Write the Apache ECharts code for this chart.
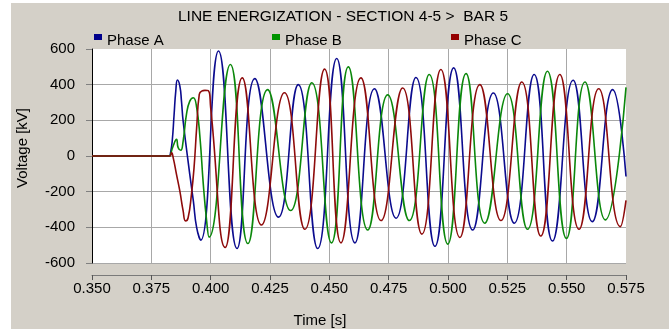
<!DOCTYPE html>
<html>
<head>
<meta charset="utf-8">
<title>Line energization</title>
<script src="https://cdn.jsdelivr.net/npm/echarts@6/dist/echarts.min.js"></script>
<style>
  html, body { margin: 0; padding: 0; background: #ffffff; }
  #chart { width: 669px; height: 329px; }
</style>
</head>
<body>
<div id="chart"></div>
<script>
// Phase voltages at bar 5 after energizing section 4-5 (time in s, voltage in kV)
const seriesNames = ['Phase A', 'Phase B', 'Phase C'];
const seriesColors = ['#0b0b8e', '#0b880b', '#8e0b0b'];
const markerColors = ['#00008b', '#009400', '#940000'];

const phaseATime = [0.350, 0.3825, 0.3831, 0.3838, 0.3846, 0.3853, 0.3860, 0.3870, 0.3877, 0.3884, 0.3912, 0.3927, 0.3941, 0.3958,
  0.4033, 0.4111, 0.4186, 0.4286, 0.4369, 0.4451, 0.4531, 0.4608, 0.4690, 0.4781, 0.4865, 0.4945, 0.5024, 0.5104,
  0.5191, 0.5279, 0.5363, 0.5440, 0.5527, 0.5608, 0.5694, 0.5750];
const phaseAVolt = [0, 0, 19, 84, 234, 364, 426, 393, 308, 196, -103, -252, -402, -472,
  589, -519, 434, -343, 400, -519, 547, -487, 377, -349, 440, -506, 494, -415,
  353, -377, 457, -477, 425, -368, 372, -115];

const phaseBTime = [0.350, 0.3828, 0.3831, 0.3842, 0.3856, 0.3863, 0.3874, 0.3884, 0.3898, 0.3912, 0.3927, 0.3941, 0.3955, 0.3969, 0.3983, 0.3993,
  0.4083, 0.4157, 0.4240, 0.4337, 0.4426, 0.4509, 0.4580, 0.4662, 0.4746, 0.4837, 0.4921, 0.4999, 0.5076, 0.5155,
  0.5251, 0.5335, 0.5419, 0.5499, 0.5577, 0.5663, 0.5750];
const phaseBVolt = [0, 0, 9, 56, 93, 47, 32, 84, 234, 308, 327, 271, 103, -159, -364, -455,
  513, -491, 372, -306, 411, -487, 500, -415, 343, -362, 457, -494, 462, -377,
  349, -411, 475, -462, 415, -358, 385];

const phaseCTime = [0.350, 0.3828, 0.3835, 0.3842, 0.3856, 0.3870, 0.3884, 0.3894, 0.3905, 0.3919, 0.3930, 0.3941, 0.3952, 0.3962, 0.3976, 0.3990, 0.4000,
  0.4061, 0.4133, 0.4214, 0.4311, 0.4397, 0.4480, 0.4549, 0.4633, 0.4718, 0.4809, 0.4890, 0.4970, 0.5050, 0.5134,
  0.5223, 0.5311, 0.5391, 0.5471, 0.5552, 0.5635, 0.5726, 0.5750];
const phaseCVolt = [0, 0, 19, -9, -103, -196, -308, -364, -346, -215, -65, 159, 346, 364, 368, 366, 271,
  -513, 438, -387, 355, -411, 487, -487, 438, -362, 381, -438, 485, -457, 400,
  -362, 415, -449, 457, -411, 377, -396, -249];

const timeAxis = { min: 0.350, max: 0.575, step: 0.025 };
const voltAxis = { min: -600, max: 600, step: 200 };
const titleText = 'LINE ENERGIZATION - SECTION 4-5 >  BAR 5';
const xName = 'Time [s]';
const yName = 'Voltage [kV]';

const FONT = '"Liberation Sans", Arial, Helvetica, sans-serif';

function pairs(ts, vs) {
  return ts.map((t, i) => [t, vs[i]]);
}

const phaseData = [
  pairs(phaseATime, phaseAVolt),
  pairs(phaseBTime, phaseBVolt),
  pairs(phaseCTime, phaseCVolt)
];

const legendX = [94, 272, 451];
const legendGraphics = [];
seriesNames.forEach((name, i) => {
  legendGraphics.push({
    type: 'rect', shape: { x: legendX[i], y: 34, width: 8, height: 6 },
    style: { fill: markerColors[i] }, silent: true
  });
  legendGraphics.push({
    type: 'text', x: legendX[i] + 13, y: 41,
    style: { text: name, font: '15px ' + FONT, fill: '#000', textVerticalAlign: 'middle' },
    silent: true
  });
});

const chart = echarts.init(document.getElementById('chart'), null, { renderer: 'canvas' });

chart.setOption({
  animation: false,
  backgroundColor: '#d4d0c8',
  graphic: [
    { type: 'rect', shape: { x: 0, y: 0, width: 11, height: 329 }, style: { fill: '#ffffff' }, silent: true },
    { type: 'rect', shape: { x: 0, y: 0, width: 669, height: 3 }, style: { fill: '#ffffff' }, silent: true },
    {
      type: 'text', x: 343, y: 17,
      style: { text: titleText, font: '15.5px ' + FONT, fill: '#000', textAlign: 'center', textVerticalAlign: 'middle' },
      silent: true
    },
    {
      type: 'text', x: 23, y: 148, rotation: Math.PI / 2,
      style: { text: yName, font: '15px ' + FONT, fill: '#000', textAlign: 'center', textVerticalAlign: 'middle' },
      silent: true
    },
    {
      type: 'text', x: 320, y: 321,
      style: { text: xName, font: '15px ' + FONT, fill: '#000', textAlign: 'center', textVerticalAlign: 'middle' },
      silent: true
    }
  ].concat(legendGraphics),
  grid: {
    left: 92, right: 43, top: 49, bottom: 66,
    show: true, backgroundColor: '#ffffff', borderWidth: 0
  },
  xAxis: {
    type: 'value',
    min: timeAxis.min, max: timeAxis.max, interval: timeAxis.step,
    offset: 12,
    axisLine: { show: true, onZero: false, lineStyle: { color: '#7a7a7a', width: 1 } },
    axisTick: { show: true, length: 5, lineStyle: { color: '#555555' } },
    axisLabel: {
      margin: 6, fontSize: 15, fontFamily: FONT, color: '#000',
      formatter: v => v.toFixed(3)
    },
    splitLine: { show: true, showMinLine: false, showMaxLine: false, lineStyle: { color: '#a8a8a8', width: 1 } }
  },
  yAxis: {
    type: 'value',
    min: voltAxis.min, max: voltAxis.max, interval: voltAxis.step,
    axisLine: { show: true, onZero: false, lineStyle: { color: '#000', width: 1 } },
    axisTick: { show: true, length: 6, lineStyle: { color: '#808080' } },
    axisLabel: { margin: 17, fontSize: 15, fontFamily: FONT, color: '#000' },
    splitLine: { show: true, showMaxLine: false, lineStyle: { color: '#a8a8a8', width: 1 } }
  },
  series: seriesNames.map((name, i) => ({
    name: name,
    type: 'line',
    data: phaseData[i],
    showSymbol: false,
    smooth: 0.5,
    lineStyle: { color: seriesColors[i], width: 1.6 },
    itemStyle: { color: seriesColors[i] },
    emphasis: { disabled: true }
  }))
});
</script>
</body>
</html>
